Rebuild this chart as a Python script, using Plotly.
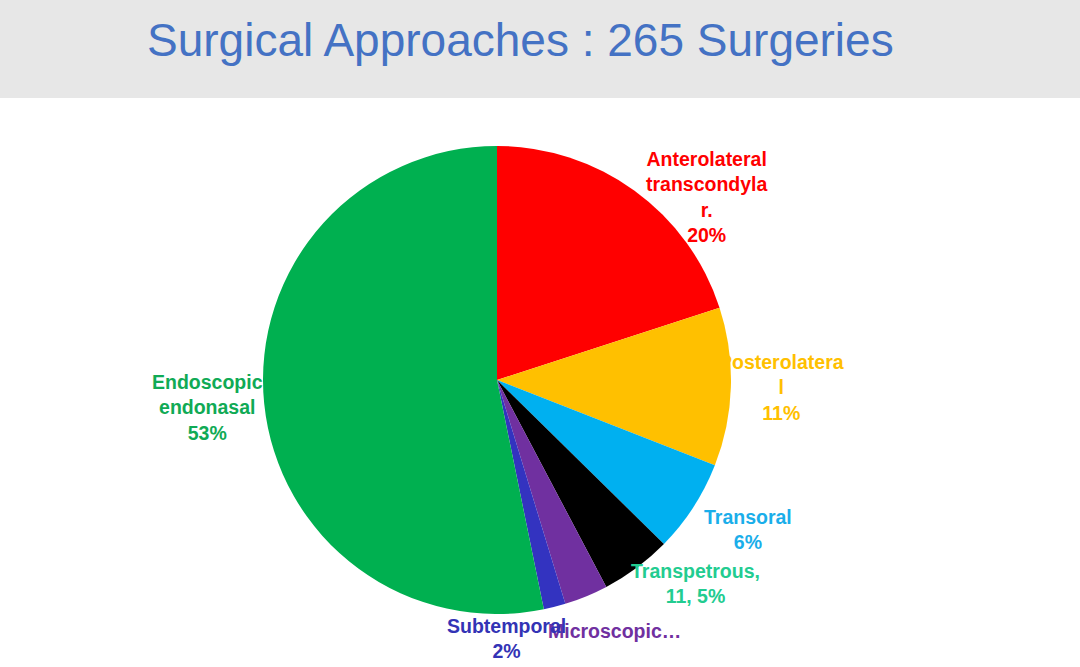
import plotly.graph_objects as go

title_text = "Surgical Approaches : 265 Surgeries"
approaches = ["Anterolateral transcondylar", "Posterolateral", "Transoral", "Transpetrous",
              "Microscopic", "Subtemporal", "Endoscopic endonasal"]
counts = [53, 29, 17, 13, 8, 4, 141]
slice_colors = ["#FF0000", "#FFC000", "#00B0F0", "#000000", "#7030A0", "#3333C0", "#00B050"]
label_texts = ["Anterolateral<br>transcondyla<br>r.<br>20%", "Posterolatera<br>l<br>11%",
               "Transoral<br>6%", "Transpetrous,<br>11, 5%", "Microscopic…",
               "Subtemporal<br>2%", "Endoscopic<br>endonasal<br>53%"]
label_colors = ["#FF0000", "#FFC000", "#1AAEEA", "#22CC90", "#7030A0", "#3333B5", "#10AA55"]
# label centres in pixels (x, y from top)
label_pos = [(707, 197), (781, 387), (748, 529), (695, 583), (614, 631), (506, 638), (207, 407)]

W, H = 1080, 667
cx, cy, r = 497, 380, 234

fig = go.Figure()
fig.add_trace(go.Pie(
    labels=approaches, values=counts, sort=False, direction="clockwise", rotation=0,
    marker=dict(colors=slice_colors, line=dict(width=0)),
    textinfo="none", hoverinfo="label+value+percent", showlegend=False,
    domain=dict(x=[(cx - r) / W, (cx + r) / W], y=[1 - (cy + r) / H, 1 - (cy - r) / H]),
))

fig.add_shape(type="rect", xref="paper", yref="paper", x0=0, x1=1, y0=1 - 98 / H, y1=1,
              fillcolor="#E7E7E7", line=dict(width=0), layer="below")
fig.add_annotation(text=title_text, xref="paper", yref="paper", x=520 / W, y=1 - 40 / H,
                   xanchor="center", yanchor="middle", showarrow=False,
                   font=dict(family="Liberation Sans, Arial", size=46, color="#4472C4"))

for txt, col, (px, py) in zip(label_texts, label_colors, label_pos):
    fig.add_annotation(text="<b>" + txt + "</b>", xref="paper", yref="paper",
                       x=px / W, y=1 - py / H, xanchor="center", yanchor="middle",
                       showarrow=False, align="center",
                       font=dict(family="Liberation Sans, Arial", size=19.5, color=col))

fig.update_layout(width=W, height=H, margin=dict(l=0, r=0, t=0, b=0),
                  paper_bgcolor="white", plot_bgcolor="white")
fig.write_html("out.html", config={"displayModeBar": False},
               post_script="document.body.style.margin='0';document.body.style.overflow='hidden';")
